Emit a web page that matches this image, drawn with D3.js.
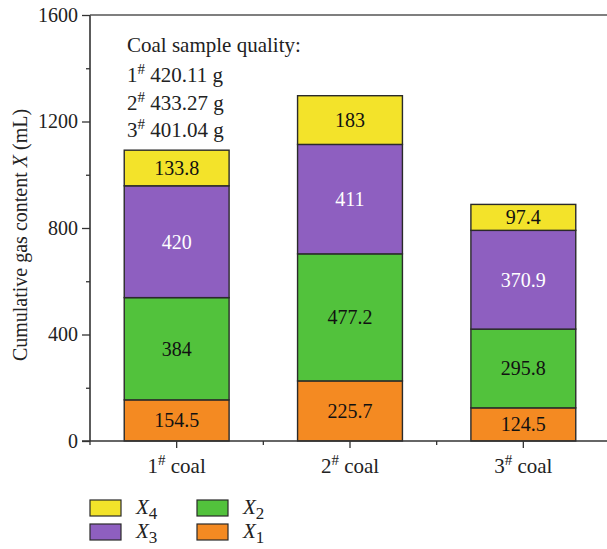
<!DOCTYPE html>
<html><head><meta charset="utf-8">
<script src="https://cdn.jsdelivr.net/npm/d3@7"></script>
<style>
html,body{margin:0;padding:0;background:#fff;}
svg{display:block;font-family:"Liberation Serif","DejaVu Serif",serif;}
</style></head>
<body>
<svg id="c" width="607" height="549"></svg>
<script>
const categories = ["1", "2", "3"];
const seriesKeys = ["X1", "X2", "X3", "X4"];
const X1 = [154.5, 225.7, 124.5];
const X2 = [384, 477.2, 295.8];
const X3 = [420, 411, 370.9];
const X4 = [133.8, 183, 97.4];
const yTicks = [0, 400, 800, 1200, 1600];
const yMinorTicks = [200, 600, 1000, 1400];
const sampleMass = ["420.11", "433.27", "401.04"];
const colors = {X1: "#F48A22", X2: "#52C23C", X3: "#8E5FC0", X4: "#F3E32A"};
const labelColors = {X1: "#111", X2: "#111", X3: "#fff", X4: "#111"};

(function () {
const rows = categories.map((c, i) => ({cat: c, X1: X1[i], X2: X2[i], X3: X3[i], X4: X4[i]}));

const svg = d3.select("#c");
const pl = 90, pr = 610, pt = 15, pb = 441;
const FS = 20, FA = 21;

const x = d3.scaleBand().domain(categories).range([pl, pr]).padding(0);
const y = d3.scaleLinear().domain([0, 1600]).range([pb, pt]);
const barFrac = 0.605;
const bw = x.bandwidth() * barFrac;

// bars
const stack = d3.stack().keys(seriesKeys)(rows);
const g = svg.append("g");
stack.forEach(layer => {
  const key = layer.key;
  layer.forEach((d, i) => {
    const cx = x(d.data.cat) + x.bandwidth() / 2;
    g.append("rect")
      .attr("x", cx - bw / 2).attr("y", y(d[1]))
      .attr("width", bw).attr("height", y(d[0]) - y(d[1]))
      .attr("fill", colors[key]).attr("stroke", "#2a2a2a").attr("stroke-width", 1.4);
    g.append("text")
      .attr("x", cx).attr("y", (y(d[0]) + y(d[1])) / 2)
      .attr("dy", "0.35em").attr("text-anchor", "middle")
      .attr("font-size", FS).attr("fill", labelColors[key])
      .text(d.data[key]);
  });
});

// axes
const axisColor = "#333";
const yAxis = svg.append("g").attr("transform", `translate(${pl},0)`)
  .call(d3.axisLeft(y).tickValues(yTicks).tickSize(8).tickPadding(4).tickFormat(d3.format("d")));
yAxis.select(".domain").remove();
yAxis.selectAll("line").attr("stroke", axisColor).attr("stroke-width", 1.3);
yAxis.selectAll("text").attr("font-size", FS).attr("fill", "#222").attr("font-family", "Liberation Serif");
const yMinor = svg.append("g").attr("transform", `translate(${pl},0)`)
  .call(d3.axisLeft(y).tickValues(yMinorTicks).tickSize(4).tickFormat(""));
yMinor.select(".domain").remove();
yMinor.selectAll("line").attr("stroke", axisColor).attr("stroke-width", 1.3);

svg.append("line").attr("x1", pl).attr("x2", pl).attr("y1", pt).attr("y2", pb)
  .attr("stroke", axisColor).attr("stroke-width", 1.6);
svg.append("line").attr("x1", pl).attr("x2", pr).attr("y1", pt).attr("y2", pt)
  .attr("stroke", "#555").attr("stroke-width", 1.6);
svg.append("line").attr("x1", pl - 8).attr("x2", pr).attr("y1", pb).attr("y2", pb)
  .attr("stroke", axisColor).attr("stroke-width", 1.6);

// x ticks
const xAxis = svg.append("g").attr("transform", `translate(0,${pb})`)
  .call(d3.axisBottom(x).tickSize(7).tickFormat(""));
xAxis.select(".domain").remove();
xAxis.selectAll("line").attr("stroke", axisColor).attr("stroke-width", 1.3);
const bounds = categories.map(c => x(c)).concat([x(categories[categories.length - 1]) + x.bandwidth()]);
svg.append("g").selectAll("line").data(bounds).join("line")
  .attr("x1", d => d).attr("x2", d => d).attr("y1", pb).attr("y2", pb + 4)
  .attr("stroke", axisColor).attr("stroke-width", 1.3);

categories.forEach(c => {
  const t = svg.append("text")
    .attr("x", x(c) + x.bandwidth() / 2).attr("y", 473)
    .attr("text-anchor", "middle").attr("font-size", FA).attr("fill", "#222");
  t.append("tspan").text(c);
  t.append("tspan").attr("font-size", 15).attr("dy", -8).text("#");
  t.append("tspan").attr("dy", 8).text(" coal");
});

// y title
const yt = svg.append("text")
  .attr("transform", `translate(27,235) rotate(-90)`)
  .attr("text-anchor", "middle").attr("font-size", FS).attr("fill", "#222");
yt.append("tspan").text("Cumulative gas content ");
yt.append("tspan").attr("font-style", "italic").text("X");
yt.append("tspan").text(" (mL)");

// annotation
svg.append("text").attr("x", 127).attr("y", 52).attr("font-size", FA).attr("fill", "#222")
  .text("Coal sample quality:");
categories.forEach((c, i) => {
  const t = svg.append("text").attr("x", 127).attr("y", 82 + i * 27.5)
    .attr("font-size", FA).attr("fill", "#222");
  t.append("tspan").text(c);
  t.append("tspan").attr("font-size", 15).attr("dy", -8).text("#");
  t.append("tspan").attr("dy", 8).text(" " + sampleMass[i] + " g");
});

// legend
const legendItems = [
  {key: "X4", col: 0, row: 0}, {key: "X3", col: 0, row: 1},
  {key: "X2", col: 1, row: 0}, {key: "X1", col: 1, row: 1}
];
legendItems.forEach(it => {
  const lx = 90 + it.col * 107, ly = 500 + it.row * 24;
  svg.append("rect").attr("x", lx).attr("y", ly).attr("width", 31).attr("height", 16)
    .attr("fill", colors[it.key]).attr("stroke", "#2a2a2a").attr("stroke-width", 1.2);
  const t = svg.append("text").attr("x", lx + 46).attr("y", ly + 14)
    .attr("font-size", FA).attr("fill", "#222");
  t.append("tspan").attr("font-style", "italic").text("X");
  t.append("tspan").attr("font-size", 17).attr("dy", 5).text(it.key.slice(1));
});
})();
</script>
</body></html>
